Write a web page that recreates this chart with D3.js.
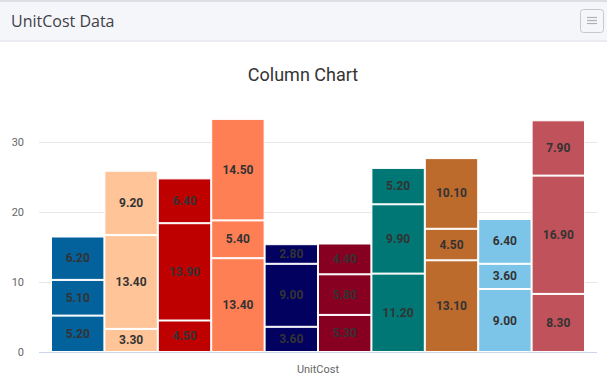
<!DOCTYPE html>
<html>
<head>
<meta charset="utf-8">
<script src="https://cdn.jsdelivr.net/npm/d3@7"></script>
<style>
  body { margin: 0; background: #fff; font-family: Roboto, sans-serif; }
  svg { display: block; }
</style>
</head>
<body>
<svg id="chart" width="607" height="387"></svg>
<script>
// one column per series, three stacked parts (bottom, middle, top)
var columns = ['c1', 'c2', 'c3', 'c4', 'c5', 'c6', 'c7', 'c8', 'c9', 'c10'];
var bottoms = [5.2, 3.3, 4.5, 13.4, 3.6, 5.3, 11.2, 13.1, 9.0, 8.3];
var middles = [5.1, 13.4, 13.9, 5.4, 9.0, 5.8, 9.9, 4.5, 3.6, 16.9];
var tops    = [6.2, 9.2, 6.4, 14.5, 2.8, 4.4, 5.2, 10.1, 6.4, 7.9];
var colors  = ['#03629c', '#ffc598', '#bf0000', '#ff7f55', '#020160',
               '#870022', '#007775', '#bd6a2d', '#7cc5e8', '#c0525b'];
var yTicks = [0, 10, 20, 30];
var xLabel = 'UnitCost';

var svg = d3.select('#chart');

// panel header
svg.append('rect').attr('x', 0).attr('y', 0).attr('width', 607).attr('height', 2).attr('fill', '#dcdee4');
svg.append('rect').attr('x', 0).attr('y', 2).attr('width', 607).attr('height', 38).attr('fill', '#f5f6fa');
svg.append('rect').attr('x', 0).attr('y', 40).attr('width', 607).attr('height', 2).attr('fill', '#ebecf1');
svg.append('text')
    .attr('x', 11).attr('y', 27)
    .style('font-family', 'Open Sans, sans-serif')
    .style('font-size', '16px')
    .attr('fill', '#3f4047')
    .text('UnitCost Data');
svg.append('rect')
    .attr('x', 580.5).attr('y', 9.5).attr('width', 23).attr('height', 23).attr('rx', 3)
    .attr('fill', '#f5f6fa').attr('stroke', '#c8c9cf');
[17, 20, 23].forEach(y => {
    svg.append('line').attr('x1', 587).attr('x2', 597).attr('y1', y + 0.5).attr('y2', y + 0.5)
        .attr('stroke', '#b0b1b6').attr('stroke-width', 1.2);
});

svg.append('text')
    .attr('x', 303).attr('y', 81)
    .attr('text-anchor', 'middle')
    .style('font-size', '18px')
    .attr('fill', '#333')
    .text('Column Chart');

var plotLeft = 39, plotRight = 597;
var y = d3.scaleLinear().domain([0, 30]).range([352, 142]);
var x = d3.scaleBand().domain(columns).range([51, 585]).padding(0);

// grid + y axis labels
var g = svg.append('g');
g.selectAll('line.grid')
    .data(yTicks.filter(t => t > 0))
    .enter().append('line')
        .attr('class', 'grid')
        .attr('x1', plotLeft).attr('x2', plotRight)
        .attr('y1', d => Math.round(y(d)) + 0.5).attr('y2', d => Math.round(y(d)) + 0.5)
        .attr('stroke', '#e6e6e6');
g.selectAll('text.tick')
    .data(yTicks)
    .enter().append('text')
        .attr('class', 'tick')
        .attr('x', 24).attr('y', d => y(d) + 4)
        .attr('text-anchor', 'end')
        .style('font-size', '11px')
        .attr('fill', '#666')
        .text(d => d);

// stacked segments
var segs = [];
columns.forEach((c, i) => {
    var parts = [bottoms[i], middles[i], tops[i]];
    var base = 0;
    parts.forEach(v => {
        segs.push({ col: c, color: colors[i], y0: base, y1: base + v, v: v });
        base += v;
    });
});

var bars = svg.append('g');
bars.selectAll('rect')
    .data(segs)
    .enter().append('rect')
        .attr('x', d => x(d.col) + 0.5)
        .attr('y', d => y(d.y1) + 0.5)
        .attr('width', x.bandwidth() - 1)
        .attr('height', d => y(d.y0) - y(d.y1) - 1)
        .attr('fill', d => d.color)
        .attr('stroke', '#fff')
        .attr('stroke-width', 1);

bars.selectAll('text')
    .data(segs)
    .enter().append('text')
        .attr('x', d => x(d.col) + x.bandwidth() / 2)
        .attr('y', d => (y(d.y0) + y(d.y1)) / 2 + 4)
        .attr('text-anchor', 'middle')
        .style('font-size', '12px')
        .style('font-weight', 'bold')
        .attr('fill', '#333')
        .text(d => d.v.toFixed(2));

// x axis
svg.append('line')
    .attr('x1', plotLeft).attr('x2', plotRight)
    .attr('y1', 352.5).attr('y2', 352.5)
    .attr('stroke', '#ccd6eb');
svg.append('text')
    .attr('x', 318).attr('y', 373)
    .attr('text-anchor', 'middle')
    .style('font-size', '11px')
    .attr('fill', '#666')
    .text(xLabel);
</script>
</body>
</html>
